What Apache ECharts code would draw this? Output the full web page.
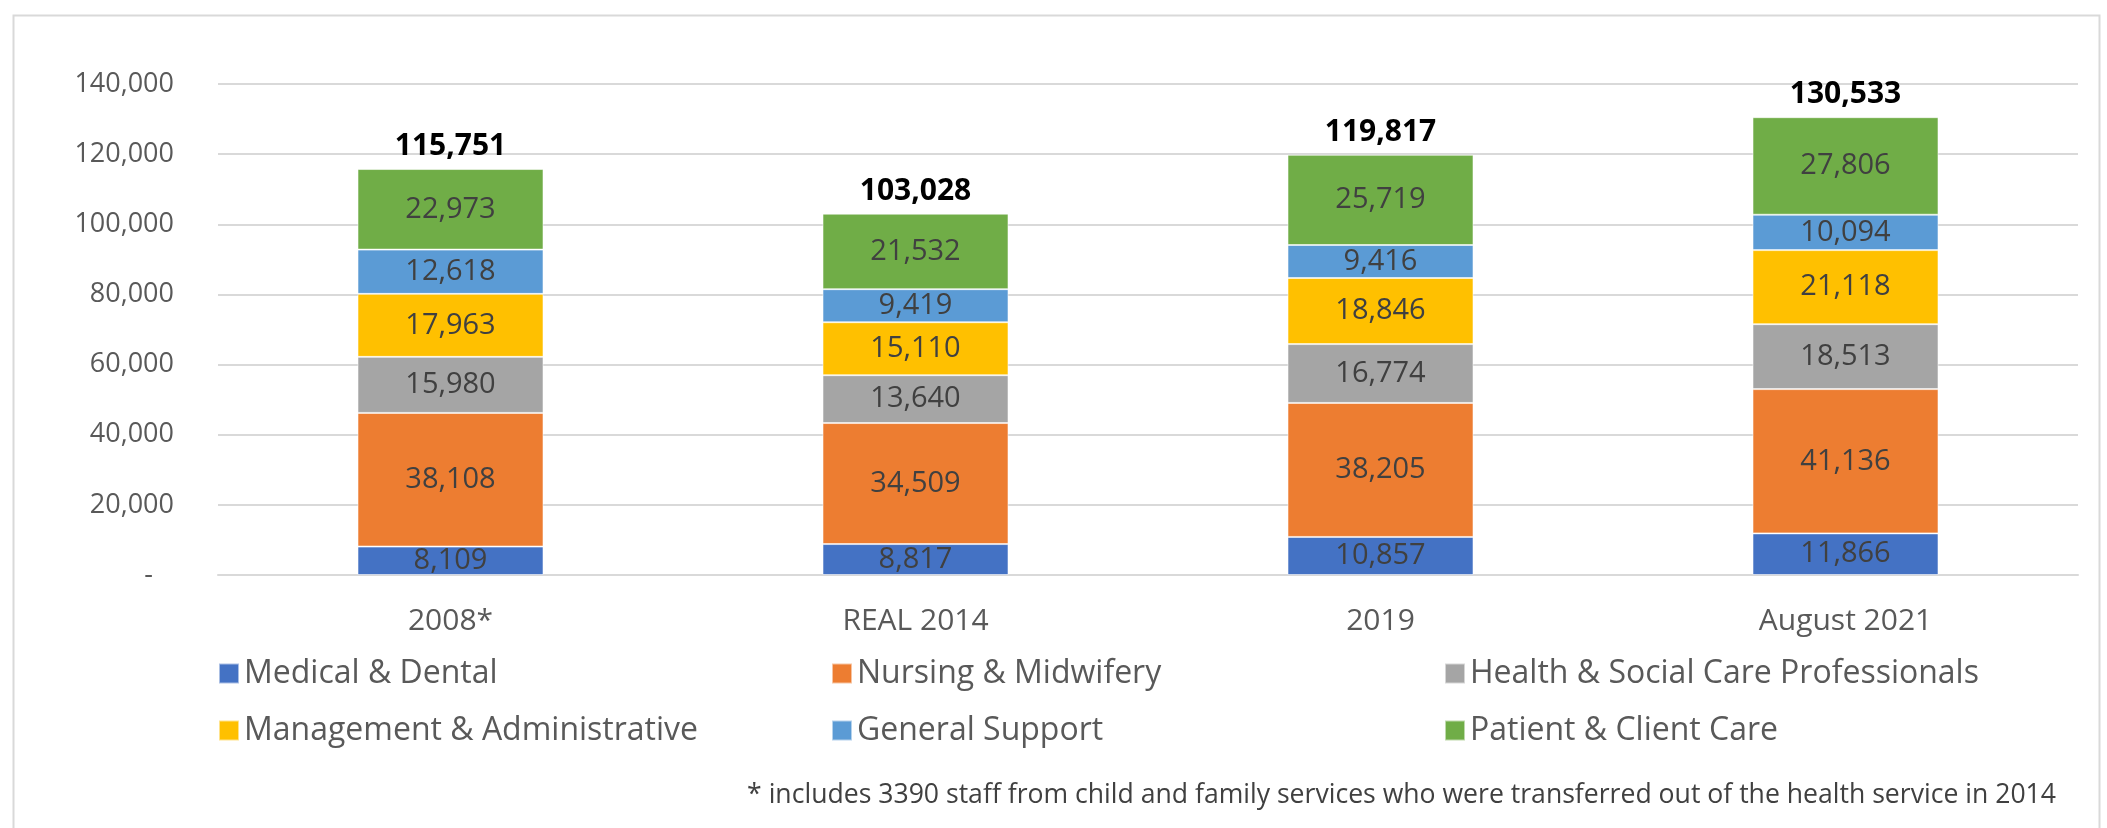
<!DOCTYPE html>
<html>
<head>
<meta charset="utf-8">
<title>Health service staff by staff category</title>
<script src="https://cdn.jsdelivr.net/npm/echarts@6/dist/echarts.min.js"></script>
<style>
  html, body { margin: 0; padding: 0; background: #ffffff; }
  #chart { width: 2107px; height: 828px; }
</style>
</head>
<body>
<div id="chart"></div>
<script>
// Categories along the x axis
const periods = ['2008*', 'REAL 2014', '2019', 'August 2021'];

// Staff numbers per staff category (bottom to top of each stack)
const medicalDental      = [8109, 8817, 10857, 11866];
const nursingMidwifery   = [38108, 34509, 38205, 41136];
const healthSocialCare   = [15980, 13640, 16774, 18513];
const managementAdmin    = [17963, 15110, 18846, 21118];
const generalSupport     = [12618, 9419, 9416, 10094];
const patientClientCare  = [22973, 21532, 25719, 27806];

// Stated totals shown above each stack
const totals = [115751, 103028, 119817, 130533];

// Y-axis ticks
const yTicks = [0, 20000, 40000, 60000, 80000, 100000, 120000, 140000];

const footnote = '* includes 3390 staff from child and family services who were transferred out of the health service in 2014';

const FONT = '"Open Sans", "DejaVu Sans", sans-serif';
const fmt = v => v.toLocaleString('en-US');

const seriesDefs = [
  { name: 'Medical & Dental', data: medicalDental, color: '#4472C4' },
  { name: 'Nursing & Midwifery', data: nursingMidwifery, color: '#ED7D31' },
  { name: 'Health & Social Care Professionals', data: healthSocialCare, color: '#A5A5A5' },
  { name: 'Management & Administrative', data: managementAdmin, color: '#FFC000' },
  { name: 'General Support', data: generalSupport, color: '#5B9BD5' },
  { name: 'Patient & Client Care', data: patientClientCare, color: '#70AD47' }
];

const barSeries = seriesDefs.map(s => ({
  name: s.name,
  type: 'bar',
  stack: 'staff',
  barWidth: '40%',
  data: s.data,
  itemStyle: { color: s.color, borderColor: 'rgba(255,255,255,0.55)', borderWidth: 1 },
  label: {
    show: true,
    position: 'inside',
    color: '#404040',
    fontFamily: FONT,
    fontSize: 29,
    formatter: p => fmt(p.value)
  },
  emphasis: { disabled: true }
}));

// Invisible carrier for the total labels on top of each stack
const totalSeries = {
  name: 'Total',
  type: 'line',
  data: totals,
  symbol: 'circle',
  symbolSize: 1,
  itemStyle: { color: 'rgba(0,0,0,0)' },
  lineStyle: { opacity: 0 },
  silent: true,
  z: 10,
  label: {
    show: true,
    position: 'top',
    distance: 7,
    color: '#000000',
    fontFamily: FONT,
    fontWeight: 'bold',
    fontSize: 30,
    formatter: p => fmt(p.value)
  },
  emphasis: { disabled: true }
};

const chart = echarts.init(document.getElementById('chart'), null, { renderer: 'canvas' });

chart.setOption({
  backgroundColor: '#ffffff',
  animation: false,
  textStyle: { fontFamily: FONT },
  grid: { left: 218, right: 29, top: 84, bottom: 253, containLabel: false },
  xAxis: {
    type: 'category',
    data: periods,
    axisTick: { show: false },
    axisLine: { show: true, lineStyle: { color: '#D9D9D9', width: 2 } },
    axisLabel: { color: '#595959', fontFamily: FONT, fontSize: 30, margin: 31 }
  },
  yAxis: {
    type: 'value',
    min: yTicks[0],
    max: yTicks[yTicks.length - 1],
    interval: yTicks[1] - yTicks[0],
    axisLine: { show: false },
    axisTick: { show: false },
    splitLine: { lineStyle: { color: '#D9D9D9', width: 2 } },
    axisLabel: {
      color: '#595959',
      fontFamily: FONT,
      fontSize: 27,
      margin: 44,
      formatter: v => (v === 0 ? '-   ' : fmt(v))
    }
  },
  legend: {
    data: seriesDefs.map(s => s.name),
    left: 218,
    top: 650,
    width: 1870,
    padding: 0,
    orient: 'horizontal',
    icon: 'rect',
    itemWidth: 20,
    itemHeight: 20,
    itemGap: 10,
    selectedMode: false,
    textStyle: {
      color: '#595959',
      fontFamily: FONT,
      fontSize: 32,
      width: 577,
      height: 47,
      lineHeight: 47
    }
  },
  graphic: [
    {
      type: 'rect',
      left: 11,
      top: 13,
      shape: { width: 2086, height: 840 },
      style: { fill: 'none', stroke: '#D9D9D9', lineWidth: 2 },
      silent: true,
      z: -1
    },
    {
      type: 'text',
      right: 51,
      top: 782,
      style: { text: footnote, fill: '#404040', font: '26.6px ' + FONT },
      silent: true
    }
  ],
  series: [...barSeries, totalSeries]
});
</script>
</body>
</html>
